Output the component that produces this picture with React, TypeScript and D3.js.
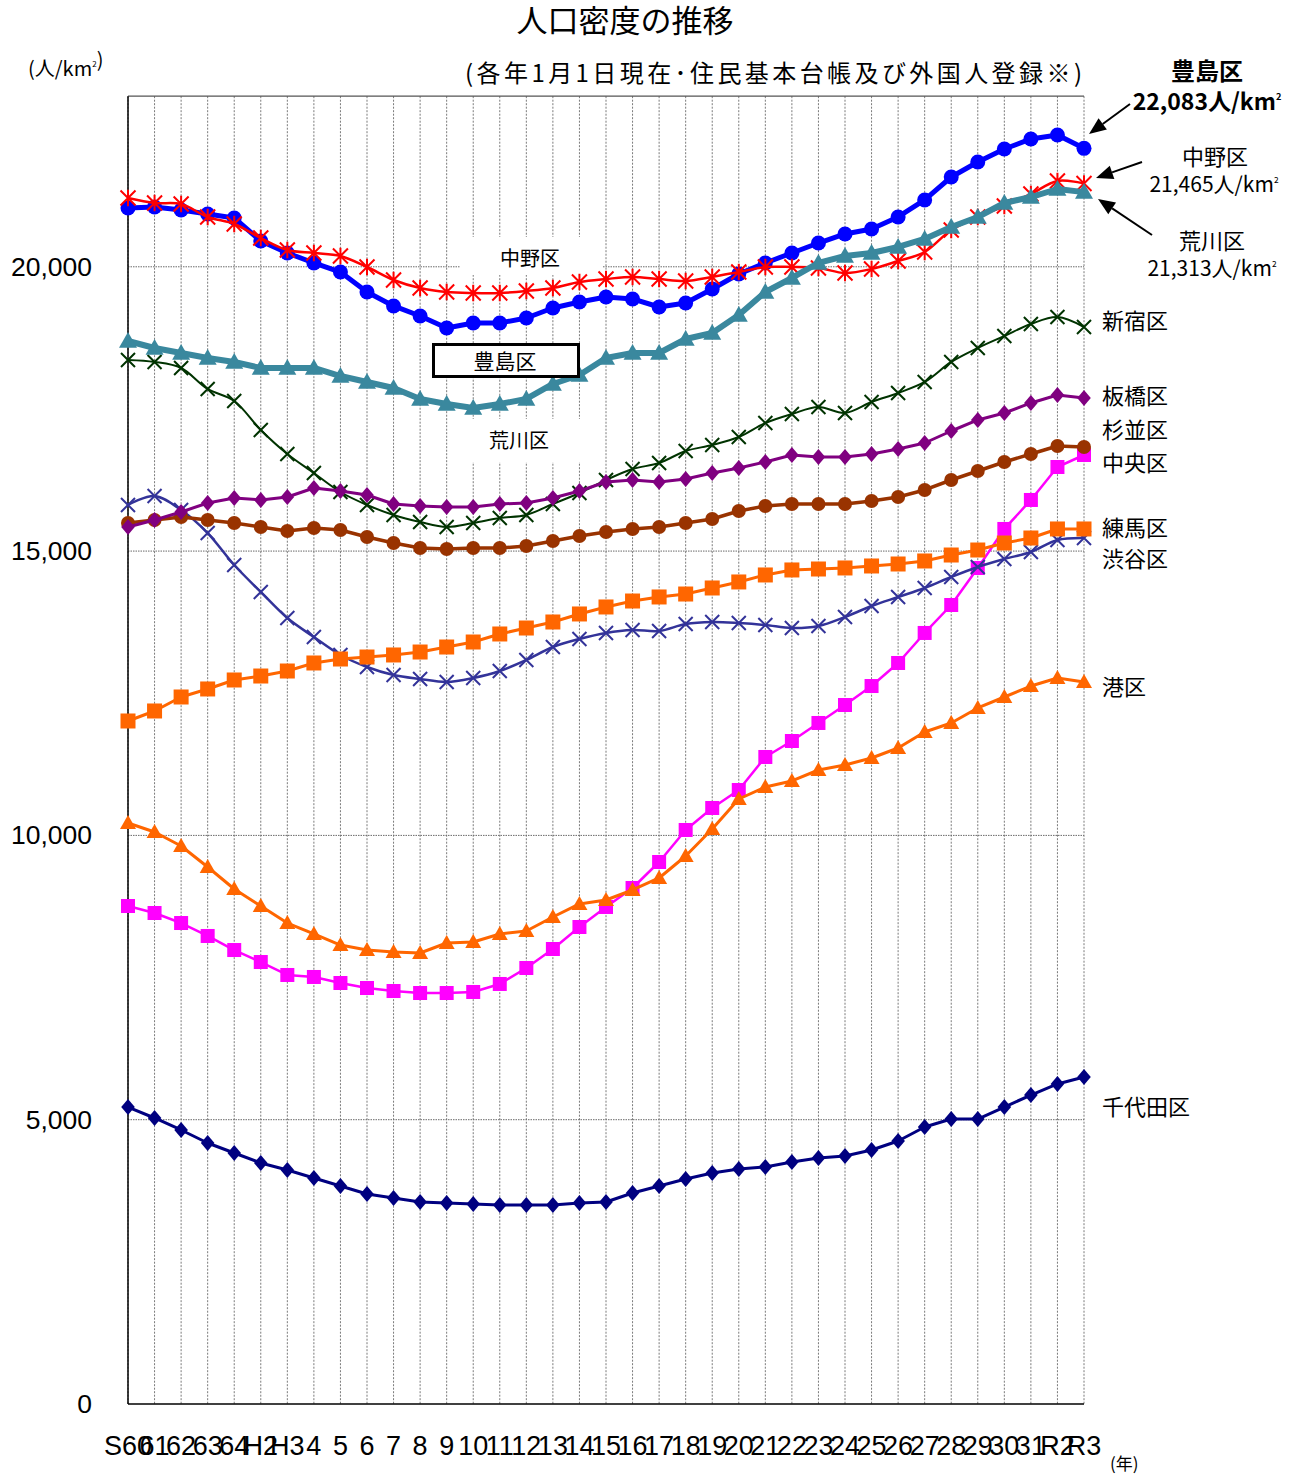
import React from 'react';
import * as d3 from 'd3';

const years = ['S60','61','62','63','64','H2','H3','4','5','6','7','8','9','10','11','12','13','14','15','16','17','18','19','20','21','22','23','24','25','26','27','28','29','30','31','R2','R3'];

const toshima = [21034,21052,20999,20929,20858,20454,20243,20067,19908,19557,19311,19135,18924,19012,19012,19099,19275,19381,19469,19434,19293,19363,19610,19873,20067,20243,20418,20577,20665,20876,21175,21579,21843,22072,22248,22318,22083];
const nakano = [21210,21122,21104,20876,20753,20506,20295,20243,20190,19996,19768,19627,19557,19539,19539,19574,19627,19733,19785,19821,19785,19750,19821,19908,19996,19996,19979,19891,19961,20102,20260,20647,20876,21069,21280,21509,21465];
const arakawa = [18695,18572,18484,18396,18326,18220,18220,18220,18079,17974,17868,17675,17587,17517,17587,17675,17939,18097,18396,18484,18484,18730,18836,19152,19557,19803,20067,20190,20243,20348,20489,20700,20876,21122,21227,21368,21313];
const shinjuku = [18361,18326,18220,17851,17640,17130,16708,16373,16039,15811,15635,15512,15424,15494,15582,15635,15828,16022,16250,16444,16549,16760,16866,17007,17253,17411,17534,17429,17622,17780,17974,18326,18572,18783,18994,19117,18941];
const itabashi = [15424,15547,15688,15846,15934,15899,15951,16110,16057,15987,15828,15793,15776,15776,15828,15846,15934,16057,16215,16250,16215,16268,16373,16461,16567,16690,16655,16655,16708,16796,16901,17112,17306,17429,17605,17745,17692];
const suginami = [15494,15547,15600,15547,15494,15424,15353,15406,15371,15248,15142,15054,15037,15054,15054,15090,15178,15266,15336,15389,15424,15494,15564,15705,15793,15828,15828,15828,15881,15951,16075,16250,16409,16567,16708,16848,16831];
const shibuya = [15811,15969,15723,15318,14755,14281,13823,13489,13173,12962,12821,12751,12698,12768,12891,13085,13313,13454,13560,13612,13595,13718,13753,13735,13700,13647,13683,13841,14034,14193,14351,14544,14720,14861,14984,15195,15230];
const nerima = [12012,12188,12434,12575,12733,12803,12891,13032,13102,13137,13173,13225,13313,13401,13542,13647,13753,13894,14017,14122,14193,14245,14351,14457,14580,14668,14685,14703,14738,14773,14826,14931,15019,15142,15230,15389,15389];
const chuo = [8758,8635,8459,8231,7984,7773,7545,7510,7404,7316,7263,7228,7228,7246,7387,7668,8002,8389,8741,9075,9532,10095,10482,10798,11379,11660,11977,12293,12627,13032,13560,14052,14703,15389,15899,16479,16690];
const minato = [10218,10060,9814,9444,9057,8758,8459,8266,8072,7984,7949,7932,8108,8125,8266,8319,8565,8794,8864,9040,9251,9638,10113,10640,10851,10957,11150,11238,11361,11537,11818,11977,12241,12434,12627,12768,12698];
const chiyoda = [5223,5030,4819,4590,4414,4238,4115,3975,3834,3693,3623,3553,3535,3517,3500,3500,3500,3535,3553,3711,3834,3957,4063,4133,4168,4256,4326,4362,4467,4625,4872,5012,5012,5223,5434,5628,5751];

const yTicks = [0, 5000, 10000, 15000, 20000];

type Marker = 'circle' | 'star' | 'x' | 'triangle' | 'diamond' | 'square';
interface Series { name: string; values: number[]; color: string; marker: Marker; lw: number; ms: number; smooth: boolean; }

const series: Series[] = [
  { name: '千代田区', values: chiyoda, color: '#000080', marker: 'diamond', lw: 3, ms: 8, smooth: false },
  { name: '中央区', values: chuo, color: '#FF00FF', marker: 'square', lw: 2.5, ms: 7, smooth: false },
  { name: '港区', values: minato, color: '#FF6600', marker: 'triangle', lw: 3, ms: 8, smooth: false },
  { name: '渋谷区', values: shibuya, color: '#333399', marker: 'x', lw: 2.5, ms: 7, smooth: true },
  { name: '練馬区', values: nerima, color: '#FF6600', marker: 'square', lw: 3, ms: 7.5, smooth: false },
  { name: '杉並区', values: suginami, color: '#993300', marker: 'circle', lw: 3.5, ms: 7, smooth: false },
  { name: '新宿区', values: shinjuku, color: '#003300', marker: 'x', lw: 2, ms: 7, smooth: true },
  { name: '板橋区', values: itabashi, color: '#800080', marker: 'diamond', lw: 3, ms: 8, smooth: false },
  { name: '豊島区', values: toshima, color: '#0000FF', marker: 'circle', lw: 5, ms: 7.5, smooth: false },
  { name: '中野区', values: nakano, color: '#FF0000', marker: 'star', lw: 2.5, ms: 7.5, smooth: true },
  { name: '荒川区', values: arakawa, color: '#3A889E', marker: 'triangle', lw: 6, ms: 9, smooth: false },
];

const rightLabels = [
  { text: '新宿区', y: 321 },
  { text: '板橋区', y: 396 },
  { text: '杉並区', y: 430 },
  { text: '中央区', y: 463 },
  { text: '練馬区', y: 528 },
  { text: '渋谷区', y: 559 },
  { text: '港区', y: 687 },
  { text: '千代田区', y: 1107 },
];

const JP = '"Noto Sans CJK JP", "Noto Sans", sans-serif';
const AR = '"Liberation Sans", Arial, sans-serif';

function MarkerShape({ m, cx, cy, s, color }: { m: Marker; cx: number; cy: number; s: number; color: string }) {
  switch (m) {
    case 'circle':
      return <circle cx={cx} cy={cy} r={s} fill={color} />;
    case 'square':
      return <rect x={cx - s} y={cy - s} width={2 * s} height={2 * s} fill={color} />;
    case 'diamond':
      return <path d={`M${cx},${cy - s}L${cx + s * 0.85},${cy}L${cx},${cy + s}L${cx - s * 0.85},${cy}Z`} fill={color} />;
    case 'triangle':
      return <path d={`M${cx},${cy - s}L${cx + s},${cy + s * 0.75}L${cx - s},${cy + s * 0.75}Z`} fill={color} />;
    case 'x':
      return <path d={`M${cx - s},${cy - s}L${cx + s},${cy + s}M${cx - s},${cy + s}L${cx + s},${cy - s}`} stroke={color} strokeWidth={2} fill="none" />;
    case 'star':
      return <path d={`M${cx - s},${cy - s}L${cx + s},${cy + s}M${cx - s},${cy + s}L${cx + s},${cy - s}M${cx},${cy - s * 1.1}L${cx},${cy + s * 1.1}`} stroke={color} strokeWidth={2} fill="none" />;
  }
  return null;
}

function Km2({ size }: { size: number }) {
  return <tspan>km<tspan dy={-size * 0.45} fontSize={size * 0.4}>2</tspan><tspan dy={size * 0.45}></tspan></tspan>;
}

function Arrow({ x1, y1, x2, y2 }: { x1: number; y1: number; x2: number; y2: number }) {
  const ang = Math.atan2(y2 - y1, x2 - x1);
  const L = 17, Wd = 7;
  const bx = x2 - L * Math.cos(ang), by = y2 - L * Math.sin(ang);
  const px = -Math.sin(ang) * Wd, py = Math.cos(ang) * Wd;
  return (
    <g>
      <line x1={x1} y1={y1} x2={bx} y2={by} stroke="#000" strokeWidth={2} />
      <path d={`M${x2},${y2}L${bx + px},${by + py}L${bx - px},${by - py}Z`} fill="#000" />
    </g>
  );
}

export default function App() {
  const x = d3.scalePoint<string>().domain(years).range([128, 1084]);
  const y = d3.scaleLinear().domain([0, 23000]).range([1404, 96.2]);
  const left = 128, right = 1084, top = y(23000), bottom = y(0);

  const mkLine = (s: Series) =>
    d3.line<number>()
      .x((_, i) => x(years[i]) as number)
      .y((d) => y(d))
      .curve(s.smooth ? d3.curveCatmullRom.alpha(0.5) : d3.curveLinear)(s.values) || '';

  return (
    <svg width={1302} height={1476} style={{ position: 'absolute', left: 0, top: 0, background: '#fff' }}>
      <rect x={0} y={0} width={1302} height={1476} fill="#fff" />
      {/* titles */}
      <text x={625} y={32} textAnchor="middle" fontFamily={JP} fontSize={31} fill="#000">人口密度の推移</text>
      <text x={465} y={82} textLength={617} lengthAdjust="spacing" fontFamily={JP} fontSize={24} fill="#000">(各年1月1日現在･住民基本台帳及び外国人登録※)</text>
      <text x={28} y={76} fontFamily={JP} fontSize={20} fill="#000">(人/<Km2 size={20} />)</text>

      {/* gridlines */}
      {years.map((yr) => (
        <line key={'v' + yr} x1={x(yr)} x2={x(yr)} y1={top} y2={bottom} stroke="#7a7a7a" strokeWidth={1} strokeDasharray="2,1.5" />
      ))}
      {yTicks.filter((t) => t > 0).map((t) => (
        <line key={'h' + t} x1={left} x2={right} y1={y(t)} y2={y(t)} stroke="#6a6a6a" strokeWidth={1} strokeDasharray="1.5,1" />
      ))}
      <line x1={left} x2={right} y1={top} y2={top} stroke="#555" strokeWidth={1.2} />
      <line x1={left} x2={left} y1={top} y2={bottom} stroke="#000" strokeWidth={1.5} />
      <line x1={left} x2={right} y1={bottom} y2={bottom} stroke="#000" strokeWidth={1.5} />

      {/* in-plot label backgrounds */}
      <rect x={460} y={237} width={143} height={38} fill="#fff" />
      <rect x={466} y={419} width={124} height={43} fill="#fff" />

      {/* series */}
      {series.map((s) => (
        <g key={s.name}>
          <path d={mkLine(s)} fill="none" stroke={s.color} strokeWidth={s.lw} strokeLinejoin="round" />
          {s.values.map((v, i) => (
            <MarkerShape key={i} m={s.marker} cx={x(years[i]) as number} cy={y(v)} s={s.ms} color={s.color} />
          ))}
        </g>
      ))}

      {/* in-plot labels */}
      <text x={530} y={266} textAnchor="middle" fontFamily={JP} fontSize={20} fill="#000">中野区</text>
      <rect x={433.5} y={344.5} width={145} height={32} fill="#fff" stroke="#000" strokeWidth={3} />
      <text x={505} y={369} textAnchor="middle" fontFamily={JP} fontSize={21} fill="#000">豊島区</text>
      <text x={519} y={448} textAnchor="middle" fontFamily={JP} fontSize={20} fill="#000">荒川区</text>

      {/* y tick labels */}
      {yTicks.map((t) => (
        <text key={'yt' + t} x={92} y={y(t) + 9} textAnchor="end" fontFamily={AR} fontSize={26.5} fill="#000">{d3.format(',')(t)}</text>
      ))}

      {/* x tick labels */}
      {years.map((yr) => (
        <text key={'xt' + yr} x={x(yr)} y={1455} textAnchor="middle" fontFamily={AR} fontSize={27} fill="#000">{yr}</text>
      ))}
      <text x={1110} y={1470} fontFamily={JP} fontSize={17} fill="#000">(年)</text>

      {/* right labels */}
      {rightLabels.map((l) => (
        <text key={l.text} x={1102} y={l.y + 8} fontFamily={JP} fontSize={22} fill="#000">{l.text}</text>
      ))}

      <text x={1207} y={80} textAnchor="middle" fontFamily={JP} fontSize={24} fontWeight="bold" fill="#000">豊島区</text>
      <text x={1207} y={110} textAnchor="middle" fontFamily={JP} fontSize={23} fontWeight="bold" fill="#000">22,083人/<Km2 size={23} /></text>
      <text x={1215} y={165} textAnchor="middle" fontFamily={JP} fontSize={22} fill="#000">中野区</text>
      <text x={1214} y={192} textAnchor="middle" fontFamily={JP} fontSize={21} fill="#000">21,465人/<Km2 size={21} /></text>
      <text x={1212} y={249} textAnchor="middle" fontFamily={JP} fontSize={22} fill="#000">荒川区</text>
      <text x={1212} y={276} textAnchor="middle" fontFamily={JP} fontSize={21} fill="#000">21,313人/<Km2 size={21} /></text>

      <Arrow x1={1130} y1={104} x2={1089} y2={134} />
      <Arrow x1={1142} y1={162} x2={1096} y2={178} />
      <Arrow x1={1152} y1={235} x2={1098} y2={199} />
    </svg>
  );
}
